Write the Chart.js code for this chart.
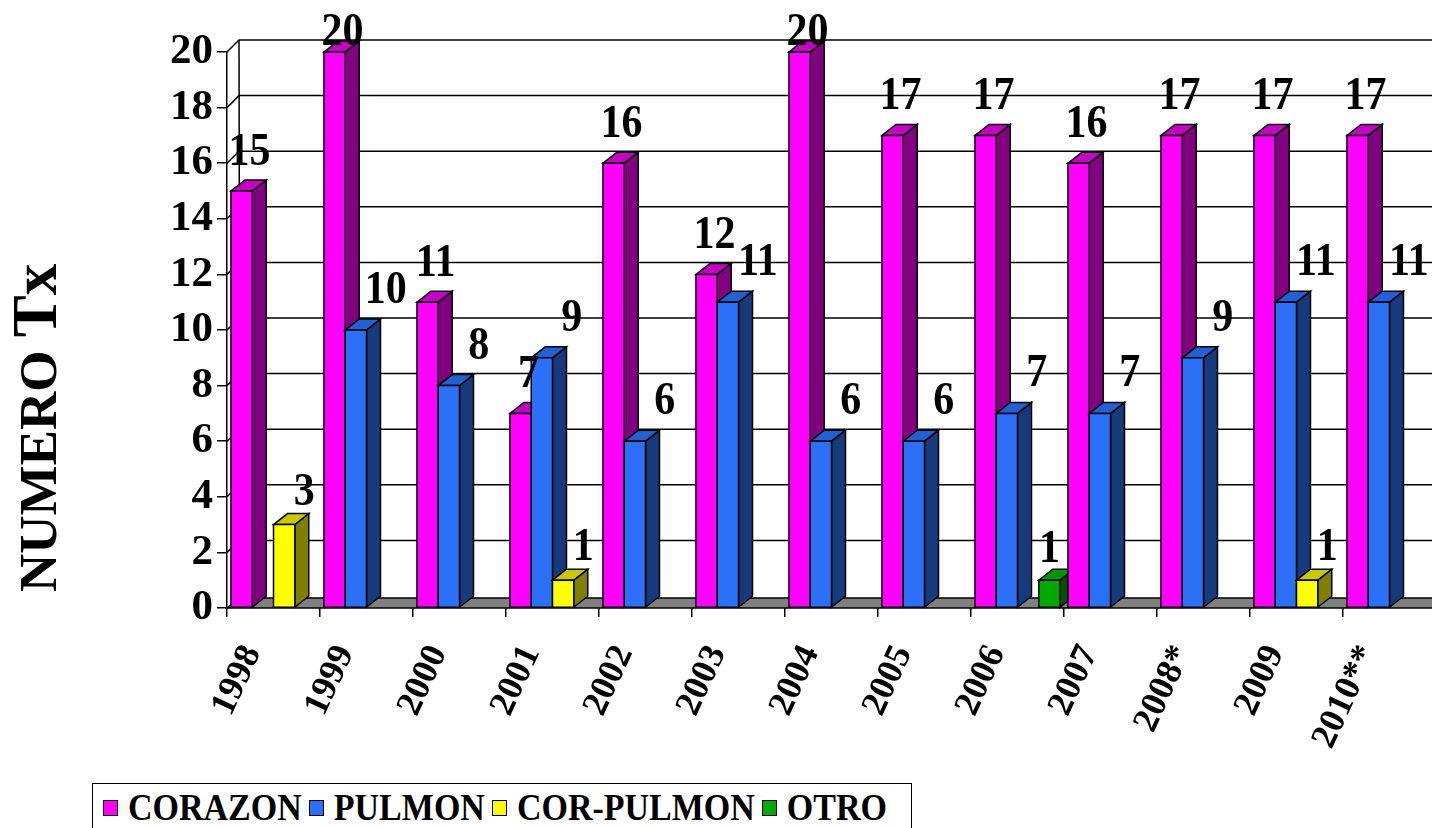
<!DOCTYPE html>
<html>
<head>
<meta charset="utf-8">
<script src="https://cdn.jsdelivr.net/npm/chart.js@4.4.1/dist/chart.umd.min.js"></script>
<style>
  html, body { margin: 0; padding: 0; background: #fff; overflow: hidden; }
  #wrap { position: relative; width: 1432px; height: 828px; overflow: hidden; }
  #chart { position: absolute; left: 0; top: 0; }
  #legend {
    position: absolute; left: 92px; top: 783px; width: 820px; height: 60px;
    border: 1.5px solid #000; box-sizing: border-box; background: #fff;
    font: bold 34px 'Liberation Serif', 'Times New Roman', serif;
    display: flex; align-items: flex-start; padding: 5px 0 0 10px; white-space: nowrap;
  }
  #legend .item { display: flex; align-items: center; margin-right: 7px; height: 38px; }
  #legend .sw { width: 13px; height: 14px; border: 1.5px solid #000; margin-right: 10px; }
  #legend .txt { display: inline-block; transform: scaleY(1.1); transform-origin: 50% 60%; }
</style>
</head>
<body>
<div id="wrap">
  <canvas id="chart" width="1470" height="828"></canvas>
  <div id="legend"></div>
</div>
<script>
// chart data
const years = ['1998', '1999', '2000', '2001', '2002', '2003', '2004', '2005', '2006', '2007', '2008*', '2009', '2010**'];
const corazon = [15, 20, 11, 7, 16, 12, 20, 17, 17, 16, 17, 17, 17];
const pulmon = [null, 10, 8, 9, 6, 11, 6, 6, 7, 7, 9, 11, 11];
const corPulmon = [3, null, null, 1, null, null, null, null, null, null, null, 1, null];
const otro = [null, null, null, null, null, null, null, null, 1, null, null, null, null];
const yTicks = [0, 2, 4, 6, 8, 10, 12, 14, 16, 18, 20];

const SERIF = "'Liberation Serif', 'Times New Roman', serif";

// front / top / side shades of each series
const faces = [
  { front: '#FF00FF', top: '#C400C4', side: '#800080' },
  { front: '#2B70F6', top: '#2260D4', side: '#173A7C' },
  { front: '#FFFF00', top: '#C8C800', side: '#808000' },
  { front: '#00A800', top: '#009400', side: '#005400' }
];
const labelShift = [[8, 26], [30, 27], [20, 20], [0, 18]]; // dx, gap above bar

const BAR_D = [14, 11], FLOOR_D = [13, 10], WALL_D = [12, 12];

function poly(ctx, pts, fill) {
  ctx.beginPath();
  pts.forEach((p, k) => k ? ctx.lineTo(p[0], p[1]) : ctx.moveTo(p[0], p[1]));
  ctx.closePath();
  ctx.fillStyle = fill;
  ctx.fill();
  ctx.stroke();
}

const threeD = {
  id: 'threeD',
  beforeDatasetsDraw(chart) {
    const { ctx, chartArea: a, scales: { y } } = chart;
    const y0 = y.getPixelForValue(0);
    const yTop = y.getPixelForValue(y.max);
    ctx.save();
    ctx.strokeStyle = '#000';
    ctx.lineWidth = 1.5;

    // back wall grid
    y.ticks.forEach(t => {
      if (t.value === 0) return;
      const py = y.getPixelForValue(t.value);
      ctx.beginPath();
      ctx.moveTo(a.left, py);
      ctx.lineTo(a.left + WALL_D[0], py - WALL_D[1]);
      ctx.lineTo(chart.width, py - WALL_D[1]);
      ctx.stroke();
    });
    ctx.beginPath();
    ctx.moveTo(a.left + FLOOR_D[0], y0 - FLOOR_D[1]);
    ctx.lineTo(a.left + WALL_D[0], yTop - WALL_D[1]);
    ctx.stroke();

    // floor
    poly(ctx, [[a.left, y0], [chart.width + 5, y0], [chart.width + 5, y0 - FLOOR_D[1]], [a.left + FLOOR_D[0], y0 - FLOOR_D[1]]], '#808080');

    // bars, category by category so the nearer faces overlap properly
    const [dx, dy] = BAR_D;
    for (let j = 0; j < years.length; j++) {
      chart.data.datasets.forEach((ds, i) => {
        if (!ds.data[j]) return;
        const el = chart.getDatasetMeta(i).data[j];
        const { x: cx, y: top, base, width } = el.getProps(['x', 'y', 'base', 'width'], true);
        const l = cx - width / 2, r = cx + width / 2;
        const f = faces[i];
        poly(ctx, [[r, base], [r + dx, base - dy], [r + dx, top - dy], [r, top]], f.side);
        poly(ctx, [[l, top], [r, top], [r + dx, top - dy], [l + dx, top - dy]], f.top);
        poly(ctx, [[l, base], [r, base], [r, top], [l, top]], f.front);
      });
    }

    // value labels
    ctx.fillStyle = '#000';
    ctx.font = 'bold 42px ' + SERIF;
    ctx.textAlign = 'center';
    ctx.textBaseline = 'alphabetic';
    chart.data.datasets.forEach((ds, i) => {
      chart.getDatasetMeta(i).data.forEach((el, j) => {
        const v = ds.data[j];
        if (!v) return;
        const [ldx, gap] = labelShift[i];
        const ly = Math.max(el.y - gap, 45);
        ctx.save();
        ctx.translate(el.x + ldx, ly);
        ctx.scale(1, 1.08);
        ctx.fillText(String(v), 0, 0);
        ctx.restore();
      });
    });
    ctx.restore();
    return false;
  },
  afterDraw(chart) {
    const ctx = chart.ctx;
    ctx.save();
    ctx.translate(56, 592);
    ctx.rotate(-Math.PI / 2);
    ctx.fillStyle = '#000';
    ctx.textAlign = 'left';
    ctx.textBaseline = 'alphabetic';
    ctx.font = 'bold 53px ' + SERIF;
    const head = 'NUMERO ';
    ctx.fillText(head, 0, 0);
    const w = ctx.measureText(head).width;
    ctx.font = 'bold 63px ' + SERIF;
    ctx.fillText('Tx', w, 0);
    ctx.restore();
  }
};

const series = [
  { label: 'CORAZON', data: corazon },
  { label: 'PULMON', data: pulmon },
  { label: 'COR-PULMON', data: corPulmon },
  { label: 'OTRO', data: otro }
];

const chart = new Chart(document.getElementById('chart'), {
  type: 'bar',
  data: {
    labels: years,
    datasets: series.map((s, i) => ({
      label: s.label,
      data: s.data,
      backgroundColor: faces[i].front,
      borderColor: '#000',
      borderWidth: 1.5,
      categoryPercentage: 0.915,
      barPercentage: 1
    }))
  },
  options: {
    responsive: false,
    animation: false,
    layout: { padding: { left: 0, right: 34, top: 52, bottom: 0 } },
    plugins: { legend: { display: false }, tooltip: { enabled: false } },
    scales: {
      x: {
        afterFit: s => { s.height = 220; },
        border: { display: false },
        grid: { offset: true, drawOnChartArea: false, drawTicks: true, tickLength: 9, color: '#000', lineWidth: 1.5 },
        ticks: {
          color: '#000', autoSkip: false, maxRotation: 65, minRotation: 65, padding: 22, labelOffset: -21,
          font: { family: SERIF, size: 36, weight: 'bold' }
        }
      },
      y: {
        min: 0, max: 20,
        afterFit: s => { s.width = 227; },
        afterBuildTicks: s => { s.ticks = yTicks.map(v => ({ value: v })); },
        border: { display: true, color: '#000', width: 1.5 },
        grid: { drawOnChartArea: false, drawTicks: true, tickLength: 10, color: '#000', lineWidth: 1.5 },
        ticks: { color: '#000', padding: 4, font: { family: SERIF, size: 43, weight: 'bold' } }
      }
    }
  },
  plugins: [threeD]
});

// legend box
const legend = document.getElementById('legend');
chart.data.datasets.forEach(ds => {
  const item = document.createElement('div');
  item.className = 'item';
  const sw = document.createElement('span');
  sw.className = 'sw';
  sw.style.background = ds.backgroundColor;
  const txt = document.createElement('span');
  txt.className = 'txt';
  txt.textContent = ds.label;
  item.appendChild(sw);
  item.appendChild(txt);
  legend.appendChild(item);
});
</script>
</body>
</html>
